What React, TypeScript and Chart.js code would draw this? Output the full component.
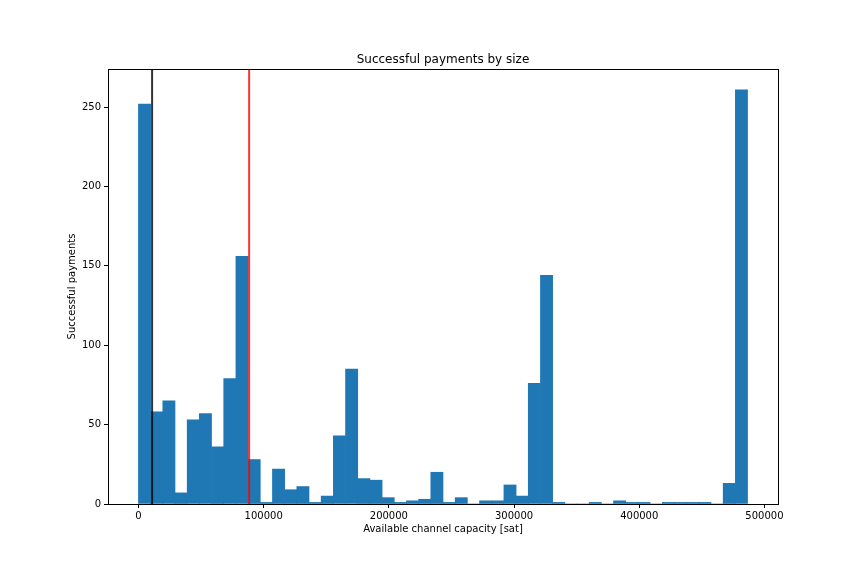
import React, { useEffect, useRef } from "react"
import { Chart, registerables, Plugin } from "chart.js"

Chart.register(...registerables)

// histogram: 50 bins from 0 to ~486500 sat
const binStart = 0
const binWidth = 9730
const counts = [
  252, 58, 65, 7, 53, 57, 36, 79, 156, 28,
  1, 22, 9, 11, 1, 5, 43, 85, 16, 15,
  4, 1, 2, 3, 20, 1, 4, 0, 2, 2,
  12, 5, 76, 144, 1, 0, 0, 1, 0, 2,
  1, 1, 0, 1, 1, 1, 1, 0, 13, 261,
]
// vertical marker lines (black, red)
const markerValues = [10900, 88400]
const markerColors = ["rgba(0,0,0,0.8)", "rgba(255,0,0,0.8)"]

const xTicks = [0, 100000, 200000, 300000, 400000, 500000]
const yTicks = [0, 50, 100, 150, 200, 250]

const titleText = "Successful payments by size"
const FONT = "'DejaVu Sans', sans-serif"

export default function App() {
  const canvasRef = useRef<HTMLCanvasElement>(null)

  useEffect(() => {
    if (!canvasRef.current) return
    const ctx = canvasRef.current.getContext("2d")
    if (!ctx) return

    const points = counts.map((c, i) => ({ x: binStart + binWidth * (i + 0.5), y: c }))
    const dataMax = binStart + binWidth * counts.length
    const span = dataMax - binStart
    const yMax = Math.max(...counts) * 1.05

    // frame, axvlines and title centred over the axes (like matplotlib)
    const overlay: Plugin = {
      id: "overlay",
      afterDatasetsDraw(chart) {
        const { ctx: c, chartArea: a, scales } = chart
        c.save()
        markerValues.forEach((v, i) => {
          const px = scales.x.getPixelForValue(v)
          c.strokeStyle = markerColors[i]
          c.lineWidth = 2
          c.beginPath()
          c.moveTo(px, a.top)
          c.lineTo(px, a.bottom)
          c.stroke()
        })
        c.strokeStyle = "#000"
        c.lineWidth = 1
        c.strokeRect(Math.round(a.left) + 0.5, Math.round(a.top) + 0.5, Math.round(a.right - a.left), Math.round(a.bottom - a.top))

        c.fillStyle = "#000"
        c.font = `12px ${FONT}`
        c.textAlign = "center"
        c.textBaseline = "alphabetic"
        c.fillText(titleText, (a.left + a.right) / 2, a.top - 6)
        c.restore()
      },
    }

    const chart = new Chart(ctx, {
      type: "bar",
      data: {
        datasets: [
          {
            label: "Successful payments",
            data: points,
            backgroundColor: "#1f77b4",
            borderWidth: 0,
            barPercentage: 1,
            categoryPercentage: 1,
          },
        ],
      },
      options: {
        responsive: false,
        animation: false,
        layout: { padding: { left: 62, right: 86, top: 69, bottom: 38 } },
        plugins: {
          legend: { display: false },
          tooltip: { enabled: false },
          title: { display: false },
        },
        scales: {
          x: {
            type: "linear",
            offset: false,
            min: binStart - span * 0.05,
            max: dataMax + span * 0.05,
            afterBuildTicks: (s) => {
              s.ticks = xTicks.map((v) => ({ value: v }))
            },
            afterFit: (s) => {
              s.height = 34
            },
            grid: { display: true, offset: false, drawOnChartArea: false, drawTicks: true, tickLength: 4, color: "#000" },
            border: { display: true, color: "#000" },
            ticks: {
              color: "#000",
              font: { family: FONT, size: 10 },
              maxRotation: 0,
              padding: 2,
              callback: (v) => String(v),
            },
            title: {
              display: true,
              text: "Available channel capacity [sat]",
              color: "#000",
              font: { family: FONT, size: 10 },
              padding: { top: 4, bottom: 3 },
            },
          },
          y: {
            min: 0,
            max: yMax,
            afterBuildTicks: (s) => {
              s.ticks = yTicks.map((v) => ({ value: v }))
            },
            afterFit: (s) => {
              s.width = 46
            },
            grid: { display: true, drawOnChartArea: false, drawTicks: true, tickLength: 4, color: "#000" },
            border: { display: true, color: "#000" },
            ticks: {
              color: "#000",
              font: { family: FONT, size: 10 },
              padding: 3,
            },
            title: {
              display: true,
              text: "Successful payments",
              color: "#000",
              font: { family: FONT, size: 10 },
              padding: { top: 4, bottom: 4 },
            },
          },
        },
      },
      plugins: [overlay],
    })

    return () => {
      chart.destroy()
    }
  }, [])

  return (
    <div style={{ position: "absolute", left: 0, top: 0, width: 864, height: 576, background: "#fff" }}>
      <canvas ref={canvasRef} width={864} height={576} style={{ display: "block" }} />
    </div>
  )
}
